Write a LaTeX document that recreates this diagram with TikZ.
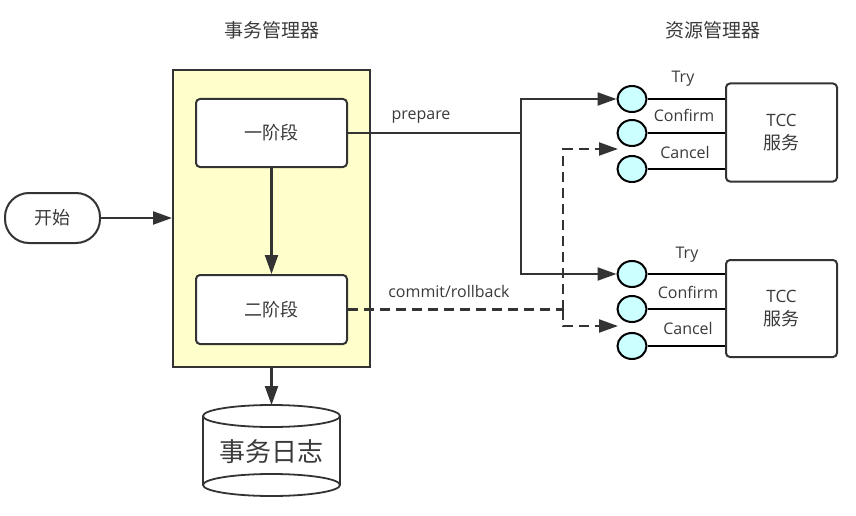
\documentclass[tikz,border=0pt]{standalone}
\usepackage{fontspec}
\setmainfont{Open Sans}
\newfontfamily\cjk{Noto Sans CJK SC}
\usetikzlibrary{arrows.meta,shapes.geometric}
\definecolor{ln}{HTML}{333333}
\definecolor{tx}{HTML}{3A3A3A}
\definecolor{yel}{HTML}{FFFFCC}
\definecolor{cyn}{HTML}{CCFFFF}
\begin{document}
\begin{tikzpicture}[x=1pt,y=-1pt,
  every node/.style={text=tx},
  title/.style={font=\cjk\fontsize{19}{22}\selectfont},
  lab/.style={font=\fontsize{16}{19}\selectfont},
  phase/.style={draw=ln,line width=2pt,fill=white,rounded corners=4pt,minimum width=151pt,minimum height=68pt,font=\cjk\fontsize{18}{22}\selectfont},
  tcc/.style={draw=ln,line width=2pt,fill=white,rounded corners=4pt,minimum width=111pt,minimum height=98pt,align=center,font=\fontsize{17}{23}\selectfont},
  port/.style={ellipse,draw=black,line width=2pt,fill=cyn,minimum width=29pt,minimum height=26pt,inner sep=0pt},
  conn/.style={draw=ln,line width=2.2pt},
  arr/.style={draw=ln,line width=2.2pt,-{Triangle[length=19pt,width=13pt]}},
  dsh/.style={dash pattern=on 10pt off 6pt}
]
\useasboundingbox (0,0) rectangle (856,516);
\node[title] (t1) at (272,30) {事务管理器};
\node[title] (t2) at (713,30) {资源管理器};
% transaction manager
\node[draw=ln,line width=2pt,fill=yel,minimum width=197pt,minimum height=297pt] (tm) at (271.5,218.5) {};
\node[phase] (p1) at (271.5,133) {一阶段};
\node[phase,minimum height=69pt] (p2) at (271.5,309.5) {二阶段};
\draw[arr] (p1.south) -- (p2.north);
% start
\node[draw=ln,line width=2pt,fill=white,rounded corners=24pt,minimum width=95pt,minimum height=50pt,font=\cjk\fontsize{18}{22}\selectfont] (st) at (52.5,218) {开始};
\draw[arr] (st.east) -- (tm.west |- st.east);
% log database
\draw[ln,line width=1.8pt,fill=white] (203,416) -- (203,485) arc[start angle=180,end angle=360,x radius=68.5pt,y radius=11pt] -- (340,416);
\draw[ln,line width=1.8pt,fill=white] (271.5,416) ellipse[x radius=68.5pt,y radius=11pt];
\draw[ln,line width=1.8pt] (203,485) arc[start angle=180,end angle=0,x radius=68.5pt,y radius=11pt];
\coordinate (dbtop) at (271.5,405);
\node[font=\cjk\fontsize{26}{30}\selectfont] (db) at (271.5,452) {事务日志};
\draw[arr] (tm.south) -- (dbtop);
% TCC services
\node[tcc] (s1) at (781.5,132.5) {TCC\\{\cjk\fontsize{18}{23}\selectfont 服务}};
\node[tcc,minimum height=97pt] (s2) at (781.5,308.5) {TCC\\{\cjk\fontsize{18}{23}\selectfont 服务}};
\node[port] (c11) at (632,99) {};
\node[port] (c12) at (632,133) {};
\node[port] (c13) at (632,169) {};
\node[port] (c21) at (632,274) {};
\node[port] (c22) at (632,309) {};
\node[port] (c23) at (632,346) {};
\foreach \c/\s in {c11/s1,c12/s1,c13/s1,c21/s2,c22/s2,c23/s2}
  \draw[black,line width=2.2pt] (\c.east) -- (\s.west |- \c.east);
\node[lab] (l11) at (683,79) {Try};
\node[lab] (l12) at (684,115) {Confirm};
\node[lab] (l13) at (685,152) {Cancel};
\node[lab] (l21) at (687,255) {Try};
\node[lab] (l22) at (688,292) {Confirm};
\node[lab] (l23) at (688,328) {Cancel};
% prepare
\coordinate (j1) at (521,133);
\draw[conn] (p1.east) -- (j1);
\draw[arr] (j1) |- (c11.west);
\draw[arr] (j1) |- (c21.west);
\node[lab] (lp) at (421,117) {prepare};
% commit / rollback
\coordinate (j2) at (563,309.5);
\coordinate (a1) at (618,149);
\coordinate (a2) at (618,326);
\draw[conn,dsh] (p2.east) -- (j2);
\draw[arr,dsh] (j2) |- (a1);
\draw[arr,dsh] (j2) |- (a2);
\node[lab] (lc) at (449,291) {commit/rollback};
\end{tikzpicture}
\end{document}
